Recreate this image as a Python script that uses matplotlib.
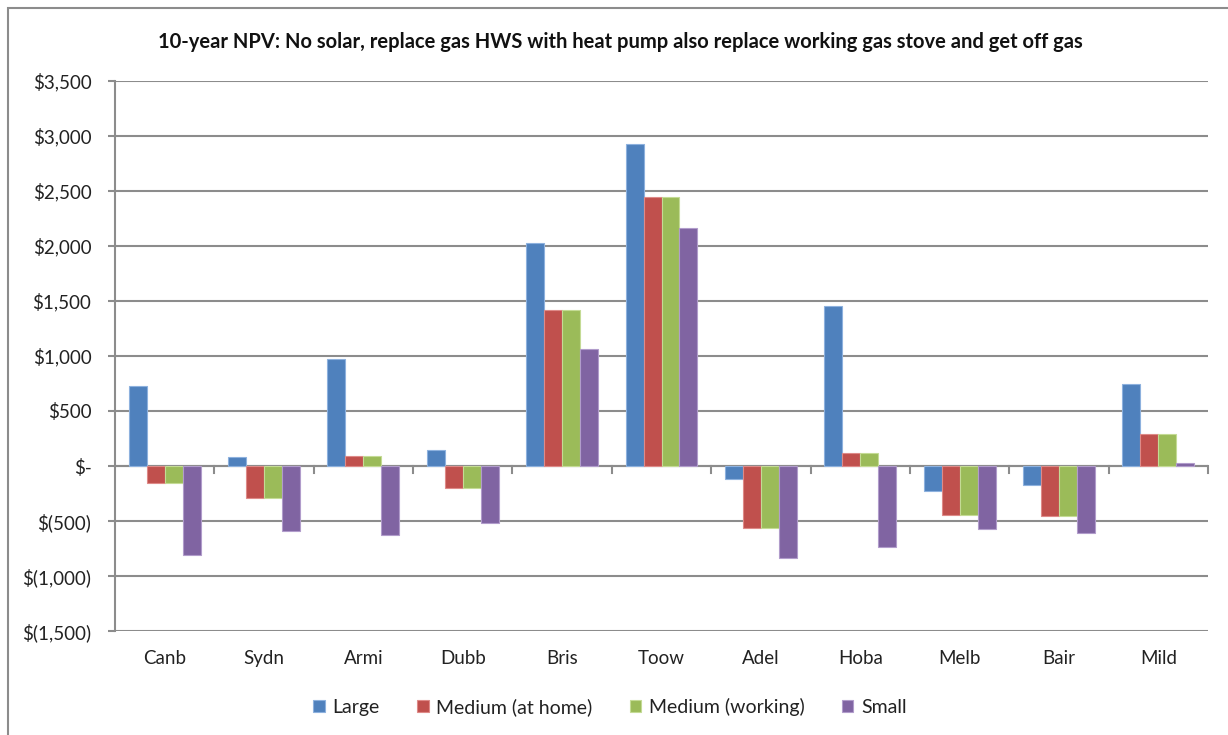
import numpy as np
import matplotlib.pyplot as plt
from matplotlib.ticker import FuncFormatter, FixedLocator
from matplotlib.patches import Rectangle

plt.rcParams['font.family'] = ['Lato', 'DejaVu Sans']

# 10-year NPV by location and household size
locations = ['Canb', 'Sydn', 'Armi', 'Dubb', 'Bris', 'Toow', 'Adel', 'Hoba', 'Melb', 'Bair', 'Mild']
large = [725, 85, 975, 150, 2025, 2925, -115, 1455, -225, -175, 745]
medium_home = [-150, -290, 95, -200, 1415, 2445, -565, 115, -445, -455, 290]
medium_working = [-150, -290, 95, -200, 1415, 2445, -565, 115, -445, -455, 290]
small = [-810, -590, -625, -520, 1065, 2160, -835, -735, -575, -605, 25]

series = [
    ('Large', large, '#4F81BD', '#8DB1DE'),
    ('Medium (at home)', medium_home, '#C0504D', '#DE8A88'),
    ('Medium (working)', medium_working, '#9BBB59', '#C4DB95'),
    ('Small', small, '#8064A2', '#B19CCB'),
]

fig = plt.figure(figsize=(12.28, 7.35), dpi=100)
ax = fig.add_axes([115 / 1228, 1 - 631 / 735, 1093 / 1228, 550 / 735])

x = np.arange(len(locations))
w = 0.181
for i, (name, vals, color, edge) in enumerate(series):
    ax.bar(x + (i - 1.5) * w, vals, w, color=color, edgecolor=edge,
           linewidth=0.8, label=name, zorder=3)

ax.set_xlim(-0.5, len(locations) - 0.5)
ax.set_ylim(-1500, 3500)
ax.yaxis.set_major_locator(FixedLocator(np.arange(-1500, 3501, 500)))


def money(v, pos):
    if v == 0:
        return '$-'
    if v < 0:
        return '$({:,.0f})'.format(-v)
    return '${:,.0f}'.format(v)


ax.yaxis.set_major_formatter(FuncFormatter(money))
ax.grid(axis='y', color='#8C8C8C', linewidth=1.5, zorder=1)
ax.tick_params(axis='y', length=5, width=1.5, color='#8C8C8C', labelsize=13.5,
               labelcolor='#222222', pad=12)

# category labels sit below the plot, ticks on the zero line between groups
ax.set_xticks(x)
ax.set_xticklabels(locations)
ax.tick_params(axis='x', length=0, labelsize=13.5, labelcolor='#222222', pad=14)
for b in np.arange(0.5, len(locations) - 0.5, 1.0):
    ax.plot([b, b], [0, -60], color='#8C8C8C', linewidth=1.5, zorder=2,
            clip_on=False)
ax.axhline(0, color='#8C8C8C', linewidth=1.5, zorder=2)
ax.plot([len(locations) - 0.5] * 2, [0, -60], color='#8C8C8C', linewidth=1.5,
        zorder=2, clip_on=False)

for side in ['top', 'right', 'bottom']:
    ax.spines[side].set_visible(False)
ax.spines['left'].set_color('#8C8C8C')
ax.spines['left'].set_linewidth(1.5)

fig.text(620 / 1228, 1 - 42 / 735,
         '10-year NPV: No solar, replace gas HWS with heat pump also replace working gas stove and get off gas',
         ha='center', va='center', fontsize=14.5, fontweight='bold', color='#111111')

fig.legend(loc='center', bbox_to_anchor=(610 / 1228, 1 - 707 / 735), ncol=4,
           frameon=False, fontsize=14, handlelength=0.6, handleheight=0.6,
           handletextpad=0.4, columnspacing=1.9, labelcolor='#222222')

# outer chart frame
fig.patches.append(Rectangle((8 / 1228, -0.1), 1.2, 1 - 8 / 735 + 0.1,
                             transform=fig.transFigure, fill=False,
                             edgecolor='#8C8C8C', linewidth=1.5))

fig.savefig('out.png', dpi=100)
